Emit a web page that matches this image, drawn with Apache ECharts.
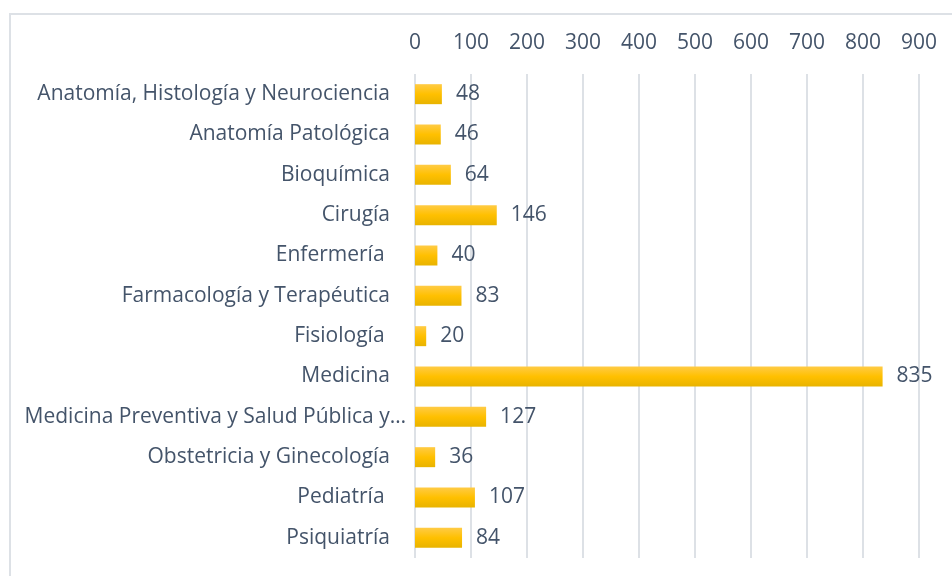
<!DOCTYPE html>
<html>
<head>
<meta charset="utf-8">
<script src="https://cdn.jsdelivr.net/npm/echarts@6/dist/echarts.min.js"></script>
<style>
  html, body { margin: 0; padding: 0; background: #fff; }
  #chart { width: 952px; height: 576px; }
</style>
</head>
<body>
<div id="chart"></div>
<script>
// datos
var categories = [
    "Anatomía, Histología y Neurociencia",
    "Anatomía Patológica",
    "Bioquímica",
    "Cirugía",
    "Enfermería ",
    "Farmacología y Terapéutica",
    "Fisiología ",
    "Medicina",
    "Medicina Preventiva y Salud Pública y…",
    "Obstetricia y Ginecología",
    "Pediatría ",
    "Psiquiatría"
];
var values = [48, 46, 64, 146, 40, 83, 20, 835, 127, 36, 107, 84];
var tickMax = 900;
var tickStep = 100;

var textColor = "#44546A";
var myChart = echarts.init(document.getElementById("chart"));

var option = {
    animation: false,
    backgroundColor: "#fff",
    textStyle: { fontFamily: "Open Sans" },
    graphic: [
        {
            type: "rect",
            shape: { x: 10, y: 14, width: 1000, height: 700 },
            style: { fill: "none", stroke: "#DDE1E6", lineWidth: 2 }
        }
    ],
    grid: {
        left: 415,
        right: 33,
        top: 74,
        bottom: 18
    },
    xAxis: {
        type: "value",
        position: "top",
        min: 0,
        max: tickMax,
        interval: tickStep,
        axisLine: { show: false },
        axisTick: { show: false },
        axisLabel: { color: textColor, fontSize: 21, margin: 20 },
        splitLine: { lineStyle: { color: "#DDE1E6", width: 2 } }
    },
    yAxis: {
        type: "category",
        inverse: true,
        data: categories,
        axisLine: { show: false },
        axisTick: { show: false },
        axisLabel: {
            color: textColor,
            fontSize: 21,
            margin: 25,
            formatter: function (v) {
                // la etiqueta cortada de Excel sobresale un poco a la derecha
                return v.indexOf("…") >= 0 ? "{cut|" + v + "}" : v;
            },
            rich: {
                cut: { color: textColor, fontSize: 21, padding: [0, -16, 0, 0] }
            }
        }
    },
    series: [
        {
            type: "bar",
            data: values,
            barWidth: 20,
            itemStyle: {
                color: new echarts.graphic.LinearGradient(0, 0, 0, 1, [
                    { offset: 0, color: "#FFCB45" },
                    { offset: 0.5, color: "#FFC000" },
                    { offset: 1, color: "#E8B300" }
                ])
            },
            label: {
                show: true,
                position: "right",
                distance: 14,
                color: textColor,
                fontSize: 21
            }
        }
    ]
};
myChart.setOption(option);
</script>
</body>
</html>
